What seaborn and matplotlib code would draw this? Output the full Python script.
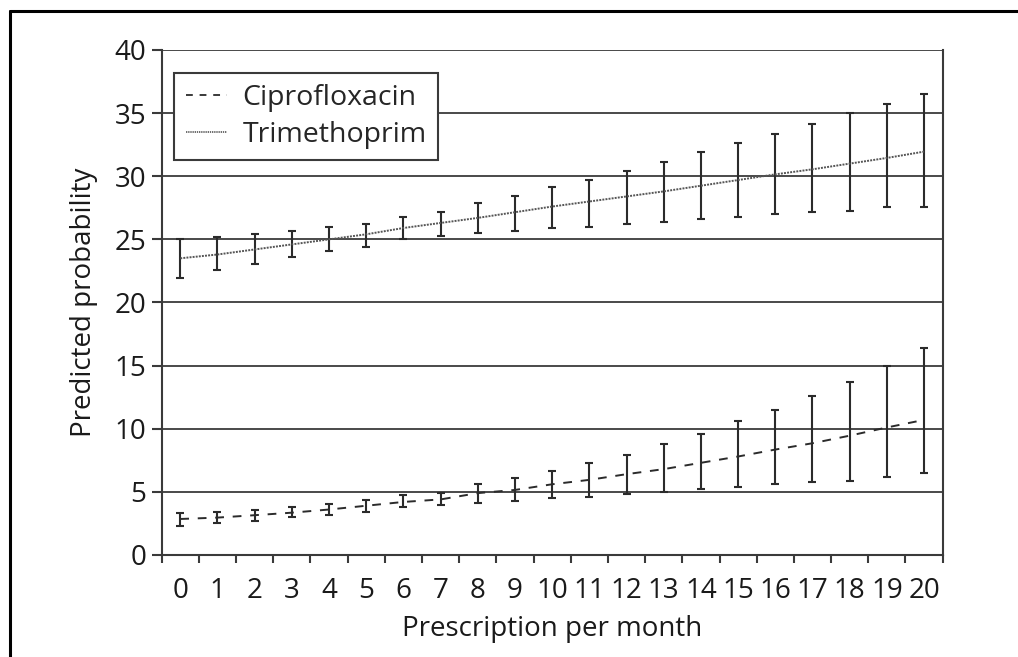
import numpy as np
import pandas as pd
import matplotlib
matplotlib.use("Agg")
import matplotlib.pyplot as plt
from matplotlib.lines import Line2D
import seaborn as sns

# ---- data ----
prescriptions = list(range(21))
tick_labels = [str(i) for i in prescriptions]

cipro_mean = [2.85, 2.96, 3.15, 3.35, 3.6, 3.9, 4.2, 4.4, 4.9, 5.15, 5.6,
              5.95, 6.4, 6.8, 7.3, 7.8, 8.35, 8.85, 9.45, 10.1, 10.7]
cipro_low = [2.3, 2.5, 2.7, 2.98, 3.17, 3.43, 3.78, 3.93, 4.1, 4.25, 4.5,
             4.6, 4.83, 4.96, 5.25, 5.4, 5.6, 5.75, 5.83, 6.2, 6.47]
cipro_high = [3.3, 3.43, 3.6, 3.8, 4.04, 4.33, 4.73, 4.94, 5.6, 6.07, 6.65,
              7.26, 7.95, 8.8, 9.55, 10.65, 11.45, 12.6, 13.7, 15.0, 16.4]

trim_mean = [23.5, 23.8, 24.2, 24.6, 25.0, 25.4, 25.9, 26.3, 26.7, 27.15, 27.6,
             28.0, 28.4, 28.8, 29.25, 29.7, 30.15, 30.55, 31.0, 31.45, 31.95]
trim_low = [21.96, 22.6, 23.05, 23.6, 24.05, 24.4, 25.0, 25.3, 25.5, 25.7, 25.9,
            26.0, 26.2, 26.4, 26.6, 26.8, 27.0, 27.2, 27.25, 27.6, 27.6]
trim_high = [25.0, 25.2, 25.4, 25.66, 25.95, 26.2, 26.8, 27.2, 27.9, 28.4, 29.15,
             29.7, 30.4, 31.1, 31.9, 32.6, 33.35, 34.1, 35.0, 35.75, 36.5]

drugs = ["Ciprofloxacin", "Trimethoprim"]

df = pd.DataFrame({
    "x": prescriptions * 2,
    "p": cipro_mean + trim_mean,
    "drug": [drugs[0]] * 21 + [drugs[1]] * 21,
})

sns.set_theme(style="white")
plt.rcParams["font.family"] = ["Open Sans", "DejaVu Sans"]

fig = plt.figure(figsize=(10.18, 6.57), dpi=100)
ax = fig.add_axes([0.1588, 0.1553, 0.9260 - 0.1588, 0.9239 - 0.1553])

dark = "#2b2b2b"
txt = "#1a1a1a"

# horizontal grid lines
ax.set_ylim(0, 40)
ax.set_xlim(-0.5, 20.5)
ax.set_yticks(range(0, 41, 5))
ax.yaxis.grid(True, color="#3a3a3a", linewidth=1.3)
ax.xaxis.grid(False)
ax.set_axisbelow(True)

# error bars
ax.errorbar(prescriptions, cipro_mean,
            yerr=[np.array(cipro_mean) - np.array(cipro_low),
                  np.array(cipro_high) - np.array(cipro_mean)],
            fmt="none", ecolor=dark, elinewidth=1.5, capsize=3.2, capthick=1.5, zorder=3)
ax.errorbar(prescriptions, trim_mean,
            yerr=[np.array(trim_mean) - np.array(trim_low),
                  np.array(trim_high) - np.array(trim_mean)],
            fmt="none", ecolor=dark, elinewidth=1.5, capsize=3.2, capthick=1.5, zorder=3)

# lines
sns.lineplot(data=df, x="x", y="p", hue="drug", style="drug",
             hue_order=drugs, style_order=drugs,
             palette={drugs[0]: "#2b2b2b", drugs[1]: "#555555"},
             dashes={drugs[0]: (4.5, 4.5), drugs[1]: (1.0, 0.6)},
             linewidth=1.4, ax=ax, legend=False, zorder=4)

# spines
for side in ["left", "right", "bottom"]:
    ax.spines[side].set_visible(True)
    ax.spines[side].set_color("#3a3a3a")
    ax.spines[side].set_linewidth(1.5)
ax.spines["top"].set_visible(False)

# ticks
ax.set_xticks(prescriptions)
ax.set_xticklabels(tick_labels)
ax.set_xticks(np.arange(-0.5, 21, 1.0), minor=True)
ax.tick_params(axis="x", which="major", length=0, pad=16, labelsize=20, colors=txt)
ax.tick_params(axis="x", which="minor", bottom=True, length=6, width=1.5, color="#3a3a3a")
ax.tick_params(axis="y", which="major", left=True, length=7, width=1.5, color="#3a3a3a",
               labelsize=20, labelcolor=txt, pad=4)

ax.set_xlabel("Prescription per month", fontsize=20, color=txt, labelpad=7)
ax.set_ylabel("Predicted probability", fontsize=20, color=txt, labelpad=12)

# legend
handles = [Line2D([0], [0], color="#3a3a3a", linewidth=1.4, dashes=(3.5, 3.5)),
           Line2D([0], [0], color="#555555", linewidth=1.2, dashes=(0.8, 0.5))]
leg = ax.legend(handles, drugs, loc="upper left", bbox_to_anchor=(0.016, 0.955),
                fontsize=20.5, frameon=True, fancybox=False, handlelength=1.45,
                handletextpad=0.55, borderpad=0.4, labelspacing=0.3, borderaxespad=0)
leg.get_frame().set_edgecolor("#3a3a3a")
leg.get_frame().set_linewidth(1.5)
leg.get_frame().set_facecolor("white")
leg.get_frame().set_alpha(1)
leg.set_zorder(10)

# outer frame (top and left edges, cut off at right and bottom)
W, H = 1018, 657
fig.add_artist(Line2D([10 / W, 10 / W], [0, 1 - 10.5 / H], transform=fig.transFigure,
                      color="black", linewidth=2.2))
fig.add_artist(Line2D([10 / W, 1], [1 - 10.5 / H, 1 - 10.5 / H], transform=fig.transFigure,
                      color="black", linewidth=2.2))

fig.savefig("out.png", dpi=100, facecolor="white")
